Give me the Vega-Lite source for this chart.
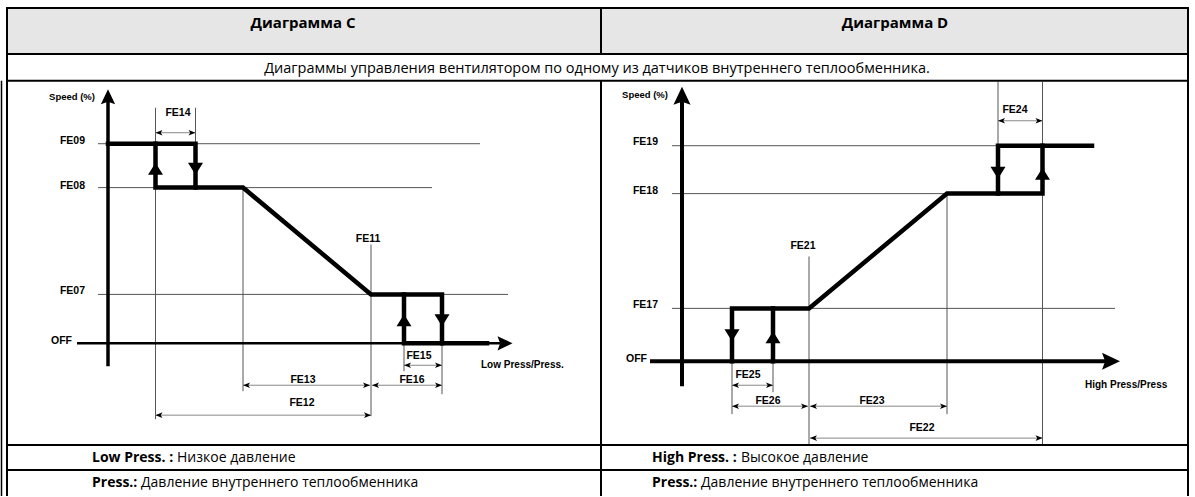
{
  "$schema": "https://vega.github.io/schema/vega-lite/v6.json",
  "width": 1195,
  "height": 497,
  "autosize": {"type": "fit", "contains": "padding"},
  "padding": 0,
  "background": "white",
  "config": {"view": {"stroke": null}},
  "datasets": {
    "lines": [
      {"kind": "level", "x": 98, "y": 144, "x2": 480, "y2": 144},
      {"kind": "level", "x": 98, "y": 188, "x2": 432, "y2": 188},
      {"kind": "level", "x": 98, "y": 295, "x2": 508, "y2": 295},
      {"kind": "level", "x": 672, "y": 146, "x2": 998, "y2": 146},
      {"kind": "level", "x": 672, "y": 194, "x2": 947, "y2": 194},
      {"kind": "level", "x": 672, "y": 309, "x2": 1115, "y2": 309},
      {"kind": "guide", "x": 155.5, "y": 108, "x2": 155.5, "y2": 420},
      {"kind": "guide", "x": 195.5, "y": 108, "x2": 195.5, "y2": 144},
      {"kind": "guide", "x": 243, "y": 188, "x2": 243, "y2": 392},
      {"kind": "guide", "x": 371, "y": 245, "x2": 371, "y2": 417},
      {"kind": "guide", "x": 404, "y": 344, "x2": 404, "y2": 372},
      {"kind": "guide", "x": 442, "y": 295, "x2": 442, "y2": 395},
      {"kind": "guide", "x": 732, "y": 362, "x2": 732, "y2": 415},
      {"kind": "guide", "x": 773, "y": 362, "x2": 773, "y2": 393},
      {"kind": "guide", "x": 809, "y": 257, "x2": 809, "y2": 446},
      {"kind": "guide", "x": 947, "y": 194, "x2": 947, "y2": 415},
      {"kind": "guide", "x": 998, "y": 82, "x2": 998, "y2": 146},
      {"kind": "guide", "x": 1042.5, "y": 82, "x2": 1042.5, "y2": 446},
      {"kind": "dim", "x": 155.5, "y": 133, "x2": 195.5, "y2": 133},
      {"kind": "dim", "x": 404, "y": 366, "x2": 442, "y2": 366},
      {"kind": "dim", "x": 372, "y": 386, "x2": 442, "y2": 386},
      {"kind": "dim", "x": 243, "y": 386, "x2": 370, "y2": 386},
      {"kind": "dim", "x": 155.5, "y": 416, "x2": 371, "y2": 416},
      {"kind": "dim", "x": 998, "y": 121, "x2": 1042.5, "y2": 121},
      {"kind": "dim", "x": 732, "y": 386, "x2": 773, "y2": 386},
      {"kind": "dim", "x": 732, "y": 407, "x2": 808, "y2": 407},
      {"kind": "dim", "x": 810, "y": 407, "x2": 947, "y2": 407},
      {"kind": "dim", "x": 810, "y": 439, "x2": 1042.5, "y2": 439},
      {"kind": "border", "x": 6, "y": 8, "x2": 1189, "y2": 8},
      {"kind": "border", "x": 7, "y": 8, "x2": 7, "y2": 497},
      {"kind": "border", "x": 1188, "y": 8, "x2": 1188, "y2": 497},
      {"kind": "border", "x": 7, "y": 54, "x2": 1188, "y2": 54},
      {"kind": "border", "x": 7, "y": 81, "x2": 1188, "y2": 81},
      {"kind": "border", "x": 7, "y": 446, "x2": 1188, "y2": 446},
      {"kind": "border", "x": 7, "y": 471, "x2": 1188, "y2": 471},
      {"kind": "border", "x": 601, "y": 8, "x2": 601, "y2": 54},
      {"kind": "border", "x": 601, "y": 81, "x2": 601, "y2": 497},
      {"kind": "outer", "x": 1.5, "y": 81, "x2": 1.5, "y2": 497},
      {"kind": "axisC", "x": 108, "y": 100, "x2": 108, "y2": 367},
      {"kind": "axisCx", "x": 77, "y": 344, "x2": 500, "y2": 344},
      {"kind": "axisD", "x": 682, "y": 100, "x2": 682, "y2": 387},
      {"kind": "axisD", "x": 650, "y": 362, "x2": 1106, "y2": 362}
    ],
    "paths": [
      {"path": "C1", "i": 1, "x": 108, "y": 144},
      {"path": "C1", "i": 2, "x": 195.5, "y": 144},
      {"path": "C1", "i": 3, "x": 195.5, "y": 188},
      {"path": "C2", "i": 1, "x": 155.5, "y": 144},
      {"path": "C2", "i": 2, "x": 155.5, "y": 188},
      {"path": "C2", "i": 3, "x": 243, "y": 188},
      {"path": "C2", "i": 4, "x": 371, "y": 295},
      {"path": "C2", "i": 5, "x": 442, "y": 295},
      {"path": "C2", "i": 6, "x": 442, "y": 344},
      {"path": "C3", "i": 1, "x": 404, "y": 295},
      {"path": "C3", "i": 2, "x": 404, "y": 344},
      {"path": "C3", "i": 3, "x": 487, "y": 344},
      {"path": "D1", "i": 1, "x": 732, "y": 362},
      {"path": "D1", "i": 2, "x": 732, "y": 309},
      {"path": "D1", "i": 3, "x": 809, "y": 309},
      {"path": "D1", "i": 4, "x": 947, "y": 194},
      {"path": "D1", "i": 5, "x": 1042.5, "y": 194},
      {"path": "D1", "i": 6, "x": 1042.5, "y": 146},
      {"path": "D2", "i": 1, "x": 773, "y": 362},
      {"path": "D2", "i": 2, "x": 773, "y": 309},
      {"path": "D3", "i": 1, "x": 998, "y": 194},
      {"path": "D3", "i": 2, "x": 998, "y": 146},
      {"path": "D3", "i": 3, "x": 1092, "y": 146}
    ],
    "heads": [
      {"kind": "big", "dir": "up", "x": 155.5, "y": 169},
      {"kind": "big", "dir": "down", "x": 195.5, "y": 169},
      {"kind": "big", "dir": "up", "x": 404, "y": 321},
      {"kind": "big", "dir": "down", "x": 442, "y": 321},
      {"kind": "big", "dir": "down", "x": 732, "y": 336},
      {"kind": "big", "dir": "up", "x": 773, "y": 338},
      {"kind": "big", "dir": "down", "x": 998, "y": 173},
      {"kind": "big", "dir": "up", "x": 1042.5, "y": 174},
      {"kind": "axisC", "dir": "axisup", "x": 108, "y": 97},
      {"kind": "axisC", "dir": "axisright", "x": 505, "y": 344},
      {"kind": "axisD", "dir": "axisup", "x": 682, "y": 96},
      {"kind": "axisD", "dir": "axisright", "x": 1111, "y": 362},
      {"kind": "dim", "dir": "dimleft", "x": 155.5, "y": 133},
      {"kind": "dim", "dir": "dimright", "x": 195.5, "y": 133},
      {"kind": "dim", "dir": "dimleft", "x": 404, "y": 366},
      {"kind": "dim", "dir": "dimright", "x": 442, "y": 366},
      {"kind": "dim", "dir": "dimleft", "x": 372, "y": 386},
      {"kind": "dim", "dir": "dimright", "x": 442, "y": 386},
      {"kind": "dim", "dir": "dimleft", "x": 243, "y": 386},
      {"kind": "dim", "dir": "dimright", "x": 370, "y": 386},
      {"kind": "dim", "dir": "dimleft", "x": 155.5, "y": 416},
      {"kind": "dim", "dir": "dimright", "x": 371, "y": 416},
      {"kind": "dim", "dir": "dimleft", "x": 998, "y": 121},
      {"kind": "dim", "dir": "dimright", "x": 1042.5, "y": 121},
      {"kind": "dim", "dir": "dimleft", "x": 732, "y": 386},
      {"kind": "dim", "dir": "dimright", "x": 773, "y": 386},
      {"kind": "dim", "dir": "dimleft", "x": 732, "y": 407},
      {"kind": "dim", "dir": "dimright", "x": 808, "y": 407},
      {"kind": "dim", "dir": "dimleft", "x": 810, "y": 407},
      {"kind": "dim", "dir": "dimright", "x": 947, "y": 407},
      {"kind": "dim", "dir": "dimleft", "x": 810, "y": 439},
      {"kind": "dim", "dir": "dimright", "x": 1042.5, "y": 439}
    ],
    "labels": [
      {"role": "header", "x": 303, "y": 23, "text": "Диаграмма С"},
      {"role": "header", "x": 895, "y": 23, "text": "Диаграмма D"},
      {"role": "sub", "x": 597, "y": 69, "text": "Диаграммы управления вентилятором по одному из датчиков внутреннего теплообменника."},
      {"role": "rowb", "x": 92, "y": 459, "text": "Low Press. :"},
      {"role": "rowb", "x": 92, "y": 484, "text": "Press.:"},
      {"role": "rowb", "x": 652, "y": 459, "text": "High Press. :"},
      {"role": "rowb", "x": 652, "y": 484, "text": "Press.:"},
      {"role": "rowr", "x": 177, "y": 459, "text": "Низкое давление"},
      {"role": "rowr", "x": 141, "y": 484, "text": "Давление внутреннего теплообменника"},
      {"role": "rowr", "x": 741, "y": 459, "text": "Высокое давление"},
      {"role": "rowr", "x": 701, "y": 484, "text": "Давление внутреннего теплообменника"},
      {"role": "speed", "x": 95, "y": 97, "text": "Speed (%)"},
      {"role": "speed", "x": 668, "y": 95, "text": "Speed (%)"},
      {"role": "feR", "x": 85, "y": 141, "text": "FE09"},
      {"role": "feR", "x": 85, "y": 186, "text": "FE08"},
      {"role": "feR", "x": 85, "y": 292, "text": "FE07"},
      {"role": "feR", "x": 72, "y": 342, "text": "OFF"},
      {"role": "feR", "x": 658, "y": 142, "text": "FE19"},
      {"role": "feR", "x": 658, "y": 191, "text": "FE18"},
      {"role": "feR", "x": 658, "y": 306, "text": "FE17"},
      {"role": "feR", "x": 647, "y": 360, "text": "OFF"},
      {"role": "feC", "x": 178, "y": 113, "text": "FE14"},
      {"role": "feC", "x": 368, "y": 239, "text": "FE11"},
      {"role": "feC", "x": 419, "y": 357, "text": "FE15"},
      {"role": "feC", "x": 412, "y": 381, "text": "FE16"},
      {"role": "feC", "x": 303, "y": 381, "text": "FE13"},
      {"role": "feC", "x": 302, "y": 404, "text": "FE12"},
      {"role": "feC", "x": 803, "y": 246, "text": "FE21"},
      {"role": "feC", "x": 1015, "y": 110, "text": "FE24"},
      {"role": "feC", "x": 748, "y": 376, "text": "FE25"},
      {"role": "feC", "x": 768, "y": 402, "text": "FE26"},
      {"role": "feC", "x": 872, "y": 402, "text": "FE23"},
      {"role": "feC", "x": 922, "y": 429, "text": "FE22"},
      {"role": "feL", "x": 481, "y": 366, "text": "Low Press/Press."},
      {"role": "feL", "x": 1085, "y": 386, "text": "High Press/Press"}
    ]
  },
  "encoding": {
    "x": {"field": "x", "type": "quantitative", "scale": {"domain": [0, 1195], "nice": false, "zero": false}, "axis": null},
    "y": {"field": "y", "type": "quantitative", "scale": {"domain": [0, 497], "nice": false, "zero": false, "reverse": true}, "axis": null}
  },
  "layer": [
    {
      "data": {"values": [{"x": 7, "y": 8, "x2": 1188, "y2": 54}]},
      "mark": {"type": "rect", "color": "#e6e6e6"},
      "encoding": {"x2": {"field": "x2"}, "y2": {"field": "y2"}}
    },
    {
      "data": {"name": "lines"},
      "transform": [{"filter": "datum.kind === 'level' || datum.kind === 'guide'"}],
      "mark": {"type": "rule", "color": "#555555", "strokeWidth": 1},
      "encoding": {"x2": {"field": "x2"}, "y2": {"field": "y2"}}
    },
    {
      "data": {"name": "lines"},
      "transform": [{"filter": "datum.kind === 'dim'"}],
      "mark": {"type": "rule", "color": "#888888", "strokeWidth": 1},
      "encoding": {"x2": {"field": "x2"}, "y2": {"field": "y2"}}
    },
    {
      "data": {"name": "lines"},
      "transform": [{"filter": "datum.kind === 'border'"}],
      "mark": {"type": "rule", "color": "#000000", "strokeWidth": 2},
      "encoding": {"x2": {"field": "x2"}, "y2": {"field": "y2"}}
    },
    {
      "data": {"name": "lines"},
      "transform": [{"filter": "datum.kind === 'outer'"}],
      "mark": {"type": "rule", "color": "#000000", "strokeWidth": 1.5},
      "encoding": {"x2": {"field": "x2"}, "y2": {"field": "y2"}}
    },
    {
      "data": {"name": "lines"},
      "transform": [{"filter": "datum.kind === 'axisC'"}],
      "mark": {"type": "rule", "color": "#000000", "strokeWidth": 3.5},
      "encoding": {"x2": {"field": "x2"}, "y2": {"field": "y2"}}
    },
    {
      "data": {"name": "lines"},
      "transform": [{"filter": "datum.kind === 'axisCx'"}],
      "mark": {"type": "rule", "color": "#000000", "strokeWidth": 2.5},
      "encoding": {"x2": {"field": "x2"}, "y2": {"field": "y2"}}
    },
    {
      "data": {"name": "lines"},
      "transform": [{"filter": "datum.kind === 'axisD'"}],
      "mark": {"type": "rule", "color": "#000000", "strokeWidth": 4},
      "encoding": {"x2": {"field": "x2"}, "y2": {"field": "y2"}}
    },
    {
      "data": {"name": "paths"},
      "mark": {"type": "line", "color": "#000000", "strokeWidth": 4.5, "strokeJoin": "miter", "strokeCap": "square"},
      "encoding": {"detail": {"field": "path", "type": "nominal"}, "order": {"field": "i", "type": "quantitative"}}
    },
    {
      "data": {"name": "heads"},
      "transform": [{"filter": "datum.kind === 'big'"}],
      "mark": {"type": "point", "filled": true, "opacity": 1, "color": "#000000", "strokeWidth": 0, "size": 225},
      "encoding": {"shape": {"field": "dir", "type": "nominal", "legend": null,
        "scale": {"domain": ["up", "down", "axisup", "axisright", "dimleft", "dimright"],
          "range": ["M0,-0.8L1,0.8L-1,0.8Z", "M0,0.8L1,-0.8L-1,-0.8Z", "M0,-1L0.95,1L0,0.65L-0.95,1Z", "M1,0L-1,0.95L-0.65,0L-1,-0.95Z", "M0,0L2,-0.8L1.5,0L2,0.8Z", "M0,0L-2,-0.8L-1.5,0L-2,0.8Z"]}}}
    },
    {
      "data": {"name": "heads"},
      "transform": [{"filter": "datum.kind === 'axisC'"}],
      "mark": {"type": "point", "filled": true, "opacity": 1, "color": "#000000", "strokeWidth": 0, "size": 225},
      "encoding": {"shape": {"field": "dir", "type": "nominal", "legend": null}}
    },
    {
      "data": {"name": "heads"},
      "transform": [{"filter": "datum.kind === 'axisD'"}],
      "mark": {"type": "point", "filled": true, "opacity": 1, "color": "#000000", "strokeWidth": 0, "size": 324},
      "encoding": {"shape": {"field": "dir", "type": "nominal", "legend": null}}
    },
    {
      "data": {"name": "heads"},
      "transform": [{"filter": "datum.kind === 'dim'"}],
      "mark": {"type": "point", "filled": true, "opacity": 1, "color": "#000000", "strokeWidth": 0, "size": 49},
      "encoding": {"shape": {"field": "dir", "type": "nominal", "legend": null}}
    },
    {
      "data": {"name": "labels"},
      "transform": [{"filter": "datum.role === 'header'"}],
      "mark": {"type": "text", "font": "Open Sans", "fontWeight": "bold", "fontSize": 15, "align": "center", "baseline": "middle", "color": "#000000"},
      "encoding": {"text": {"field": "text"}}
    },
    {
      "data": {"name": "labels"},
      "transform": [{"filter": "datum.role === 'sub'"}],
      "mark": {"type": "text", "font": "Open Sans", "fontSize": 14.5, "align": "center", "baseline": "middle", "color": "#000000"},
      "encoding": {"text": {"field": "text"}}
    },
    {
      "data": {"name": "labels"},
      "transform": [{"filter": "datum.role === 'rowb'"}],
      "mark": {"type": "text", "font": "Open Sans", "fontWeight": "bold", "fontSize": 14, "align": "left", "baseline": "middle", "color": "#000000"},
      "encoding": {"text": {"field": "text"}}
    },
    {
      "data": {"name": "labels"},
      "transform": [{"filter": "datum.role === 'rowr'"}],
      "mark": {"type": "text", "font": "Open Sans", "fontSize": 14, "align": "left", "baseline": "middle", "color": "#000000"},
      "encoding": {"text": {"field": "text"}}
    },
    {
      "data": {"name": "labels"},
      "transform": [{"filter": "datum.role === 'speed'"}],
      "mark": {"type": "text", "font": "Liberation Sans", "fontWeight": "bold", "fontSize": 9.5, "align": "right", "baseline": "middle", "color": "#000000"},
      "encoding": {"text": {"field": "text"}}
    },
    {
      "data": {"name": "labels"},
      "transform": [{"filter": "datum.role === 'feR'"}],
      "mark": {"type": "text", "font": "Liberation Sans", "fontWeight": "bold", "fontSize": 10.5, "align": "right", "baseline": "middle", "color": "#000000"},
      "encoding": {"text": {"field": "text"}}
    },
    {
      "data": {"name": "labels"},
      "transform": [{"filter": "datum.role === 'feC'"}],
      "mark": {"type": "text", "font": "Liberation Sans", "fontWeight": "bold", "fontSize": 10.5, "align": "center", "baseline": "middle", "color": "#000000"},
      "encoding": {"text": {"field": "text"}}
    },
    {
      "data": {"name": "labels"},
      "transform": [{"filter": "datum.role === 'feL'"}],
      "mark": {"type": "text", "font": "Liberation Sans", "fontWeight": "bold", "fontSize": 10, "align": "left", "baseline": "middle", "color": "#000000"},
      "encoding": {"text": {"field": "text"}}
    }
  ]
}
